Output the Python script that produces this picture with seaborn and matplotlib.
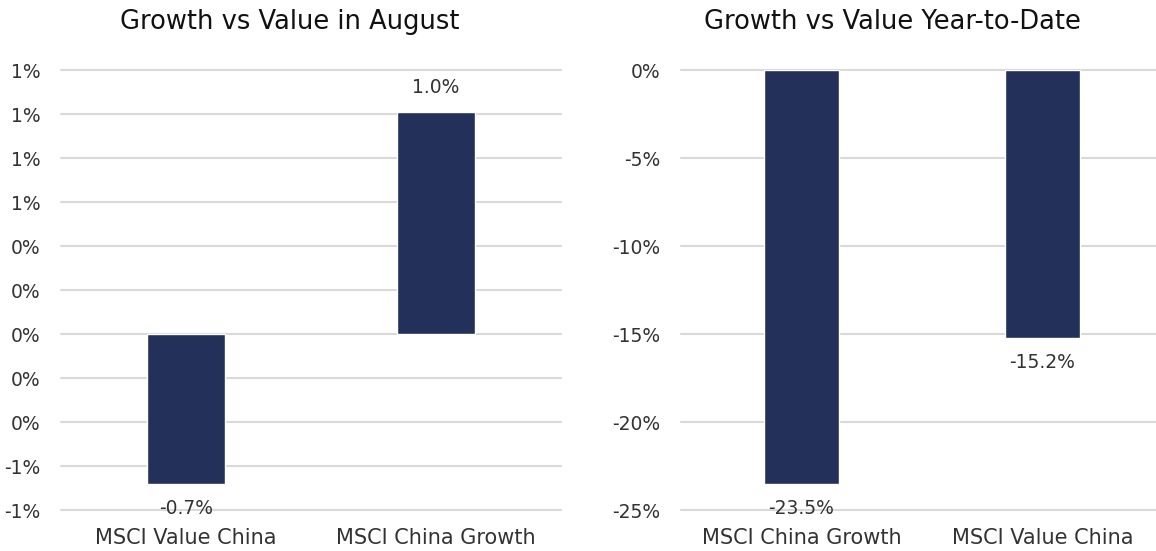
import matplotlib
matplotlib.use("Agg")
import matplotlib.pyplot as plt
import seaborn as sns
import numpy as np
import pandas as pd

# ---- data ----
aug_categories = ["MSCI Value China", "MSCI China Growth"]
aug_values = [-0.68, 1.01]
aug_labels = ["-0.7%", "1.0%"]
aug_ticks = [-0.8, -0.6, -0.4, -0.2, 0.0, 0.2, 0.4, 0.6, 0.8, 1.0, 1.2]
aug_ticklabels = ["-1%", "-1%", "0%", "0%", "0%", "0%", "0%", "1%", "1%", "1%", "1%"]

ytd_categories = ["MSCI China Growth", "MSCI Value China"]
ytd_values = [-23.5, -15.2]
ytd_labels = ["-23.5%", "-15.2%"]
ytd_ticks = [-25, -20, -15, -10, -5, 0]
ytd_ticklabels = ["-25%", "-20%", "-15%", "-10%", "-5%", "0%"]

titles = ["Growth vs Value in August", "Growth vs Value Year-to-Date"]

BAR = "#22305A"
GRID = "#D9D9D9"
TXT = "#333333"

sns.set_theme(style="white")
plt.rcParams["font.family"] = ["DejaVu Sans"]

W, H = 1156, 551
fig = plt.figure(figsize=(W / 100, H / 100), dpi=100)

def px_axes(x0, x1, ytop, ybot):
    return fig.add_axes([x0 / W, (H - ybot) / H, (x1 - x0) / W, (ybot - ytop) / H])

ax1 = px_axes(61, 561, 70, 510)
ax2 = px_axes(681, 1163, 70, 510)

def draw(ax, cats, vals, labels, ticks, ticklabels, ylim):
    df = pd.DataFrame({"cat": cats, "val": vals})
    sns.barplot(data=df, x="cat", y="val", ax=ax, color=BAR, width=0.31,
                saturation=1, zorder=3)
    ax.set_ylim(*ylim)
    ax.set_xlim(-0.5, 1.5)
    ax.set_yticks(ticks)
    ax.set_yticklabels(ticklabels)
    ax.yaxis.grid(True, color=GRID, linewidth=1.5, zorder=0)
    for gl in ax.get_ygridlines():
        gl.set_clip_on(False)
    ax.set_axisbelow(True)
    for s in ax.spines.values():
        s.set_visible(False)
    ax.tick_params(axis="y", length=0, pad=15, labelsize=13.5, labelcolor=TXT)
    ax.tick_params(axis="x", length=0, pad=13, labelsize=15, labelcolor=TXT)
    ax.set_xlabel("")
    ax.set_ylabel("")
    ax.bar_label(ax.containers[0], labels=labels, padding=11, fontsize=13.5, color=TXT)

draw(ax1, aug_categories, aug_values, aug_labels, aug_ticks, aug_ticklabels, (-0.8, 1.2))
draw(ax2, ytd_categories, ytd_values, ytd_labels, ytd_ticks, ytd_ticklabels, (-25, 0))

fig.text(290 / W, 1 - 22 / H, titles[0], ha="center", va="center", fontsize=18.5,
         color="#111111", fontweight="medium")
fig.text(892 / W, 1 - 22 / H, titles[1], ha="center", va="center", fontsize=18.5,
         color="#111111", fontweight="medium")

fig.savefig("out.png", dpi=100, facecolor="white")
